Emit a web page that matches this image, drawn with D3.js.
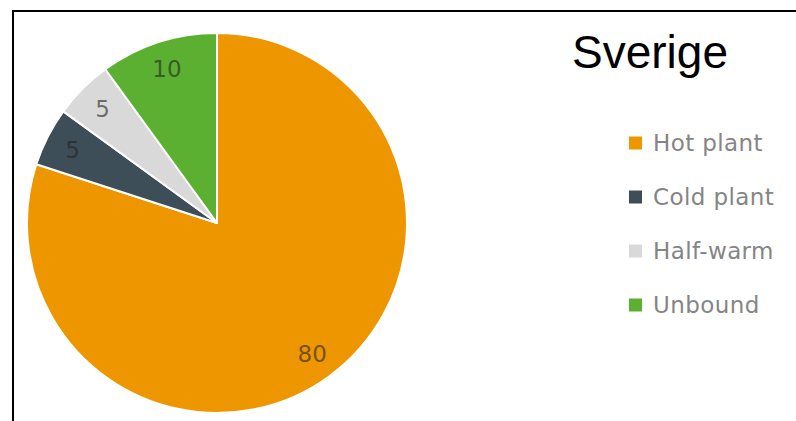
<!DOCTYPE html>
<html>
<head>
<meta charset="utf-8">
<script src="https://cdn.jsdelivr.net/npm/d3@7"></script>
<style>
  html, body { margin: 0; padding: 0; background: #fff; }
  svg { display: block; }
</style>
</head>
<body>
<div id="chart"></div>
<script>
// ----------------------------------------------------------------------

const title = "Sverige";
const categories = ["Hot plant", "Cold plant", "Half-warm", "Unbound"];
const values = [80, 5, 5, 10];

const palette = ["#ee9600", "#3e4e58", "#d9d9d9", "#5bb031"];

// ----------------------------------------------------------------------

const width = 796, height = 421;
const cx = 217, cy = 223, radius = 190;

const svg = d3.select("#chart")
    .append("svg")
    .attr("width", width)
    .attr("height", height);

// frame (top + left edge)
svg.append("path")
    .attr("d", "M13,421 V11 H796")
    .attr("fill", "none")
    .attr("stroke", "#000")
    .attr("stroke-width", 2);

const color = d3.scaleOrdinal().domain(categories).range(palette);

const pie = d3.pie().sort(null).value(d => d.value);
const slices = pie(categories.map((c, i) => ({ name: c, value: values[i] })));

const arc = d3.arc().innerRadius(0).outerRadius(radius);
const labelArc = d3.arc().innerRadius(162).outerRadius(162);

const g = svg.append("g").attr("transform", `translate(${cx},${cy})`);

g.selectAll("path.slice")
    .data(slices)
    .enter()
    .append("path")
    .attr("class", "slice")
    .attr("d", arc)
    .attr("fill", d => color(d.data.name))
    .attr("stroke", "#fff")
    .attr("stroke-width", 2)
    .attr("stroke-linejoin", "round");

g.selectAll("text.val")
    .data(slices)
    .enter()
    .append("text")
    .attr("class", "val")
    .attr("transform", d => `translate(${labelArc.centroid(d)})`)
    .attr("text-anchor", "middle")
    .attr("dy", "0.36em")
    .attr("font-family", "DejaVu Sans, sans-serif")
    .attr("font-size", 23)
    .attr("fill", "#222")
    .attr("fill-opacity", 0.6)
    .text(d => d.data.value);

// title
svg.append("text")
    .attr("x", 572)
    .attr("y", 68)
    .attr("font-family", "Liberation Sans, Arial, sans-serif")
    .attr("font-size", 46)
    .attr("fill", "#000")
    .text(title);

// legend
const legendY = d3.scalePoint().domain(categories).range([143, 305]);

const legend = svg.selectAll("g.legend")
    .data(categories)
    .enter()
    .append("g")
    .attr("class", "legend")
    .attr("transform", d => `translate(629,${legendY(d)})`);

legend.append("rect")
    .attr("x", 0)
    .attr("y", -6.5)
    .attr("width", 13)
    .attr("height", 13)
    .attr("fill", d => color(d));

legend.append("text")
    .attr("x", 24)
    .attr("y", 7.5)
    .attr("font-family", "DejaVu Sans, sans-serif")
    .attr("font-size", 23)
    .attr("letter-spacing", 0.4)
    .attr("fill", "#858585")
    .text(d => d);

// ----------------------------------------------------------------------
</script>
</body>
</html>
